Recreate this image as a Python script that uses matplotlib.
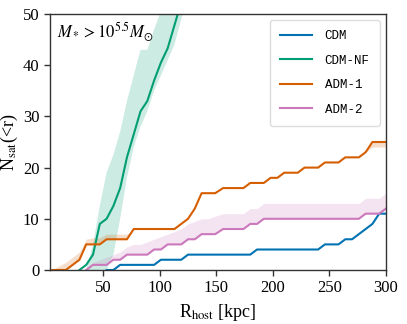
import numpy as np
import matplotlib
matplotlib.use("Agg")
import matplotlib.pyplot as plt

nan = np.nan

# host radius grid [kpc]
r_host = [5, 11, 17, 23, 29, 35, 41, 47, 53, 59, 65, 71, 77, 83, 89, 95, 101, 107, 113, 119,
          125, 131, 137, 143, 149, 156, 162, 168, 174, 180, 186, 192, 198, 204, 210, 216, 222, 228, 234, 240,
          246, 252, 258, 264, 270, 276, 282, 288, 294, 300]

labels = ["CDM", "CDM-NF", "ADM-1", "ADM-2"]
colors = ["#0173b2", "#029e73", "#d55e00", "#cc78bc"]

cdm = [nan, nan, nan, nan, nan, nan, nan, nan, 0, 0, 1, 1, 1, 1, 1, 1, 2, 2, 2, 2,
       3, 3, 3, 3, 3, 3, 3, 3, 3, 3, 4, 4, 4, 4, 4, 4, 4, 4, 4, 4,
       5, 5, 5, 6, 6, 7, 8, 9, 11, 11]

cdm_nf = [nan, nan, nan, nan, 0, 1, 3, 9, 10, 12.5, 16, 22, 26.5, 31, 33, 37, 40.5, 43.3, 47.8, 52.3,
          57, nan, nan, nan, nan, nan, nan, nan, nan, nan, nan, nan, nan, nan, nan, nan, nan, nan, nan, nan,
          nan, nan, nan, nan, nan, nan, nan, nan, nan, nan]
cdm_nf_lo = [nan, nan, nan, nan, nan, 0, 0, 0, 0, 3, 10, 18, 24, 28, 31, 35, 38, 41, 44, 49,
             53, 57, nan, nan, nan, nan, nan, nan, nan, nan, nan, nan, nan, nan, nan, nan, nan, nan, nan, nan,
             nan, nan, nan, nan, nan, nan, nan, nan, nan, nan]
cdm_nf_hi = [nan, nan, nan, nan, nan, 0, 5, 12.5, 19, 22.5, 27, 33, 38, 43, 43, 47, 50.5, 54, 58, 62,
             66, 70, nan, nan, nan, nan, nan, nan, nan, nan, nan, nan, nan, nan, nan, nan, nan, nan, nan, nan,
             nan, nan, nan, nan, nan, nan, nan, nan, nan, nan]

adm1 = [0, 0, 0, 1, 2, 5, 5, 5, 6, 6, 6, 6, 8, 8, 8, 8, 8, 8, 8, 9,
        10, 12, 15, 15, 15, 16, 16, 16, 16, 17, 17, 17, 18, 18, 19, 19, 19, 20, 20, 20,
        21, 21, 21, 22, 22, 22, 23, 25, 25, 25]
adm1_lo = adm1[:47] + [24, 24, 24]
adm1_hi = [0, 0.8, 1.5, 2.5, 3.5, 6, 6.3, 6.3, 7, 7, 7, 7] + adm1[12:]

adm2 = [nan, nan, nan, nan, nan, 0, 1, 1, 1, 2, 2, 3, 3, 3, 3, 4, 4, 5, 5, 5,
        6, 6, 7, 7, 7, 8, 8, 8, 8, 9, 9, 10, 10, 10, 10, 10, 10, 10, 10, 10,
        10, 10, 10, 10, 10, 10, 11, 11, 11, 12]
adm2_hi = [nan, nan, nan, nan, nan, 0, 1.5, 2, 2.5, 3, 3.5, 4.5, 5, 5, 5.5, 6, 6.5, 7, 7.5, 8,
           9, 9.5, 10, 10, 10.5, 11, 11, 11, 11, 12, 12, 13, 13, 13, 13, 13, 13, 13, 13, 13,
           13, 13, 13, 13, 13, 13, 14, 14, 14, 15]

plt.rcParams["font.family"] = ["Liberation Serif", "DejaVu Serif"]
plt.rcParams["mathtext.fontset"] = "stix"

fig = plt.figure(figsize=(4.07, 3.24), dpi=100)
ax = fig.add_axes([0.1229, 0.1667, 0.8255, 0.7901])

x = np.array(r_host, dtype=float)
lines = [np.array(cdm), np.array(cdm_nf), np.array(adm1), np.array(adm2)]
bands = [None,
         (np.array(cdm_nf_lo), np.array(cdm_nf_hi)),
         (np.array(adm1_lo, dtype=float), np.array(adm1_hi, dtype=float)),
         (np.array(adm2), np.array(adm2_hi))]

for y, band, c, lab in zip(lines, bands, colors, labels):
    if band is not None:
        lo, hi = band
        ok = ~(np.isnan(lo) | np.isnan(hi))
        ax.fill_between(x, lo, hi, where=ok, color=c, alpha=0.2, lw=0)
    ax.plot(x, y, color=c, lw=1.5, label=lab)

ax.set_xlim(3, 300)
ax.set_ylim(0, 50)
ax.set_xticks([50, 100, 150, 200, 250, 300])
ax.set_yticks([0, 10, 20, 30, 40, 50])
ax.tick_params(direction="out", length=4, width=1, labelsize=12, color="#333333")
for s in ax.spines.values():
    s.set_color("#333333")
    s.set_linewidth(1)

ax.set_xlabel(r"R$_{\rm host}$ [kpc]", fontsize=13)
ax.set_ylabel(r"N$_{\rm sat}$(<r)", fontsize=13, labelpad=2)
ax.text(0.02, 0.975, r"$M_* > 10^{5.5} M_{\odot}$", transform=ax.transAxes,
        ha="left", va="top", fontsize=12)

leg = ax.legend(loc="upper right", prop={"family": "Liberation Mono", "size": 9},
                handlelength=2.6, handletextpad=1.0, labelspacing=1.0,
                borderpad=0.8, fancybox=True, framealpha=1, edgecolor="#dddddd")

fig.savefig("out.png", dpi=100)
